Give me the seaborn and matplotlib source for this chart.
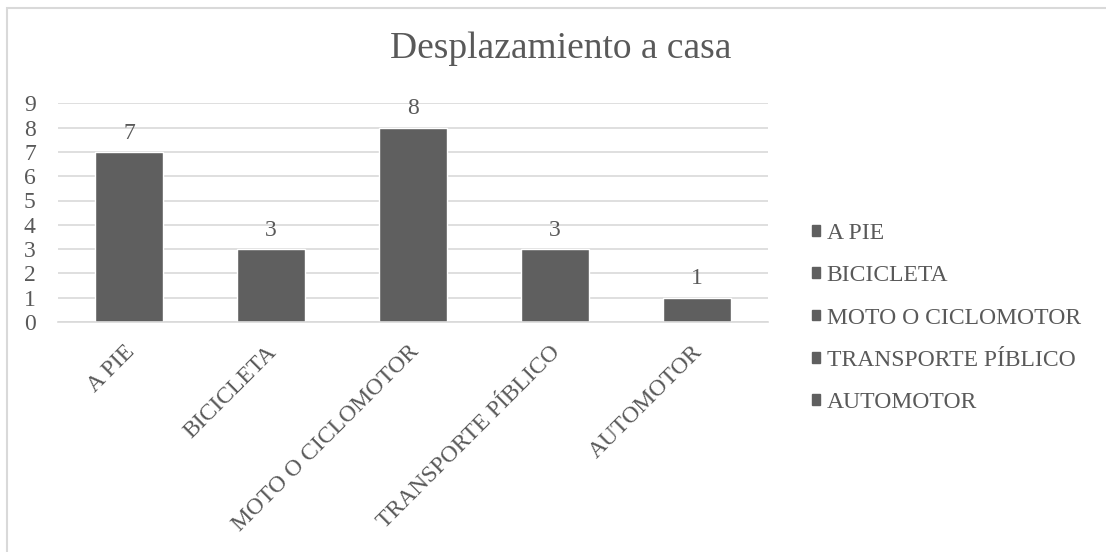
import matplotlib
matplotlib.use("Agg")
import matplotlib.pyplot as plt
from matplotlib.patches import Rectangle
from matplotlib.transforms import ScaledTranslation
import numpy as np
import pandas as pd
import seaborn as sns

# Data
categories = ["A PIE", "BICICLETA", "MOTO O CICLOMOTOR", "TRANSPORTE PÍBLICO", "AUTOMOTOR"]
counts = [7, 3, 8, 3, 1]
title = "Desplazamiento a casa"

bar_color = "#5f5f5f"
text_color = "#595959"
grid_color = "#d9d9d9"
fs = 17

sns.set_theme(style="white")
plt.rcParams["font.family"] = ["Liberation Serif", "DejaVu Serif"]

df = pd.DataFrame({"modo": categories, "n": counts})

fig = plt.figure(figsize=(11.06, 5.52), dpi=100)
ax = fig.add_axes([58 / 1106, 1 - 322 / 552, 710 / 1106, (322 - 103.3) / 552])

sns.barplot(data=df, x="modo", y="n", hue="modo", order=categories,
            hue_order=categories, palette=[bar_color] * len(categories),
            width=0.475, dodge=False, legend=True, saturation=1, ax=ax)

ax.set_ylim(0, 9)
ax.set_xlim(-0.5, len(categories) - 0.5)
ax.set_yticks(range(0, 10))
ax.yaxis.grid(True, color=grid_color, linewidth=1.2)
ax.set_axisbelow(True)
ax.set_xlabel("")
ax.set_ylabel("")

for s in ["top", "right", "left"]:
    ax.spines[s].set_visible(False)
ax.spines["bottom"].set_color(grid_color)
ax.spines["bottom"].set_linewidth(1.2)

ax.tick_params(axis="y", length=0, pad=16, labelsize=fs, labelcolor=text_color)
ax.tick_params(axis="x", which="major", length=0, pad=14, labelsize=fs, labelcolor=text_color)
ax.set_xticks(np.arange(-0.5, len(categories)), minor=True)
ax.tick_params(axis="x", which="minor", length=5, width=1.2, color=grid_color, direction="out")
shift = ScaledTranslation(-5 / 100, 0, fig.dpi_scale_trans)
for lbl in ax.get_xticklabels():
    lbl.set_rotation(45)
    lbl.set_ha("right")
    lbl.set_va("top")
    lbl.set_rotation_mode("anchor")
    lbl.set_transform(lbl.get_transform() + shift)

for cont in ax.containers:
    ax.bar_label(cont, padding=6, fontsize=fs, color=text_color)

handles = [Rectangle((0, 0), 1, 1, color=bar_color) for _ in categories]
leg = ax.legend(handles, categories, loc="center left",
                bbox_to_anchor=(812 / 1106, 1 - 318 / 552), bbox_transform=fig.transFigure,
                frameon=False, fontsize=fs, labelcolor=text_color,
                handlelength=0.32, handleheight=0.32, handletextpad=0.3,
                labelspacing=0.9, borderaxespad=0, borderpad=0)

fig.text(561 / 1106, 1 - 58 / 552, title, ha="center", va="baseline",
         fontsize=27, color=text_color)

# Chart frame
fig.patches.append(Rectangle((6.5 / 1106, -0.1), 1.2, (1 - 7.5 / 552) + 0.1,
                             transform=fig.transFigure, fill=False,
                             edgecolor=grid_color, linewidth=1.5))

fig.savefig("out.png", dpi=100, facecolor="white")
